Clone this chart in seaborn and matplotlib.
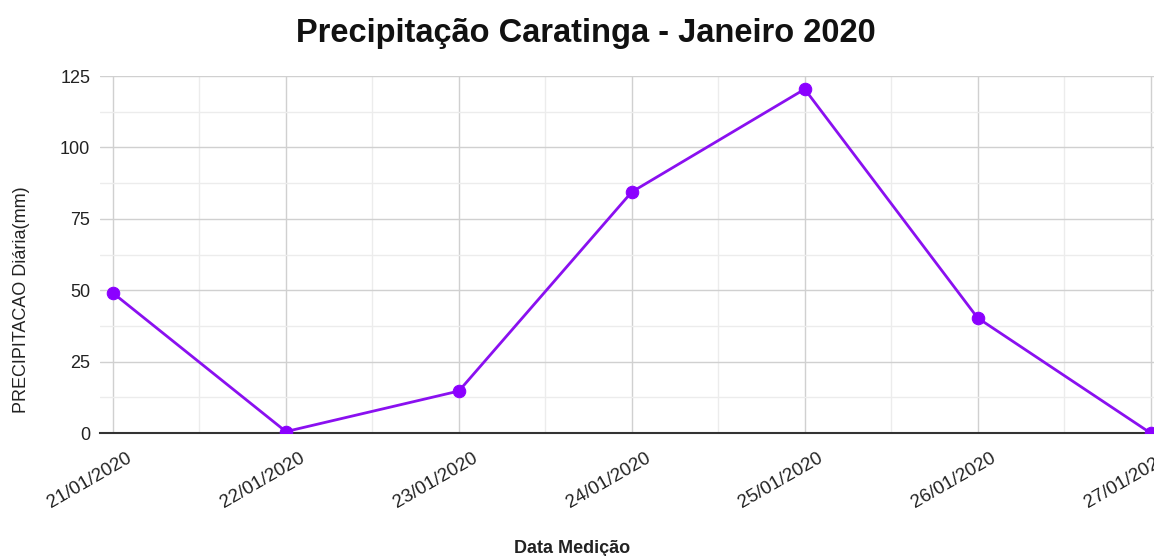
import matplotlib
matplotlib.use("Agg")
import matplotlib.pyplot as plt
import matplotlib.transforms as mtransforms
import seaborn as sns
import pandas as pd
import numpy as np
from matplotlib.ticker import MultipleLocator

datas = ["21/01/2020", "22/01/2020", "23/01/2020", "24/01/2020",
         "25/01/2020", "26/01/2020", "27/01/2020"]
precipitacao = [49.0, 0.5, 14.7, 84.4, 120.4, 40.3, 0.0]

df = pd.DataFrame({"Data": datas, "Precip": precipitacao})
df["pos"] = np.arange(len(datas))

sns.set_style("white")
plt.rcParams['font.family'] = ['Liberation Sans', 'DejaVu Sans']

fig = plt.figure(figsize=(11.54, 5.56), dpi=100)
ax = fig.add_axes([0.0867, 0.2212, 0.9133, 0.6421])

sns.lineplot(data=df, x="pos", y="Precip", ax=ax, color="#8a10f0", linewidth=2,
             marker="o", markersize=9, markerfacecolor="#8b00ff",
             markeredgecolor="#8b00ff", zorder=3)

ax.set_xlim(-0.075, 6.02)
ax.set_ylim(0, 125)
ax.set_xticks(df["pos"])
ax.set_xticklabels(datas, rotation=30, ha="right", rotation_mode="anchor",
                   fontsize=13.5, color="#222222")
ax.xaxis.set_minor_locator(MultipleLocator(0.5))
ax.yaxis.set_major_locator(MultipleLocator(25))
ax.yaxis.set_minor_locator(MultipleLocator(12.5))
ax.tick_params(axis="y", labelsize=13, colors="#222222", length=0, pad=7)
ax.tick_params(axis="x", which="major", direction="inout", length=16, width=1.5, color="#333333", pad=4)
ax.tick_params(axis="x", which="minor", length=0)
ax.tick_params(axis="y", which="minor", length=0)

ax.grid(True, which="major", color="#d0d0d0", linewidth=1)
ax.grid(True, which="minor", color="#ececec", linewidth=1)
ax.set_axisbelow(True)

for s in ["top", "right", "left"]:
    ax.spines[s].set_visible(False)
ax.spines["bottom"].set_color("#333333")
ax.spines["bottom"].set_linewidth(1.5)

ax.set_xlabel("Data Medição", fontsize=13, fontweight="bold", color="#222222")
ax.set_ylabel("PRECIPITACAO Diária(mm)", fontsize=13, color="#222222")
ax.xaxis.set_label_coords(0.448, -0.30)
ax.yaxis.set_label_coords(-0.066, 0.373)
fig.suptitle("Precipitação Caratinga - Janeiro 2020", fontsize=23.5, fontweight="bold",
             x=0.508, y=0.967, color="#111111")

fig.canvas.draw()
offset = mtransforms.ScaledTranslation(13 / 100, 0, fig.dpi_scale_trans)
for tick in ax.xaxis.get_major_ticks():
    tick.label1.set_transform(tick.label1.get_transform() + offset)

fig.savefig("out.png", dpi=100)
